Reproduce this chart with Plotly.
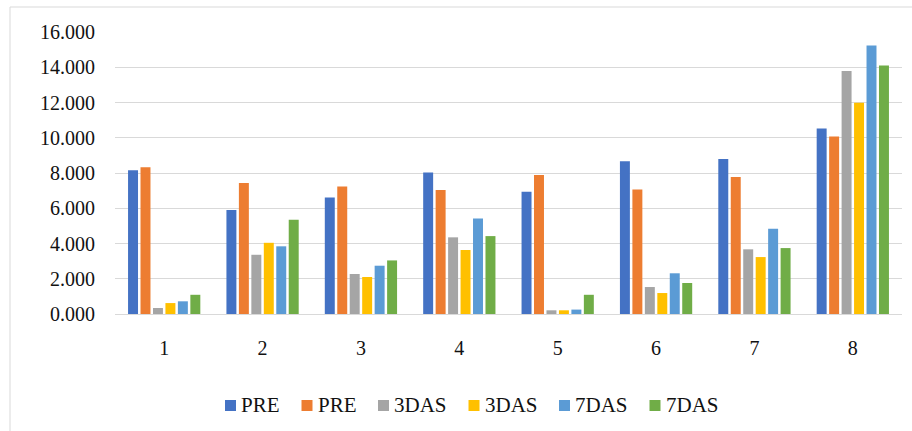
import plotly.graph_objects as go

categories = ["1", "2", "3", "4", "5", "6", "7", "8"]
series_names = ["PRE", "PRE", "3DAS", "3DAS", "7DAS", "7DAS"]
pre_a   = [8.16, 5.90, 6.61, 8.03, 6.93, 8.67, 8.79, 10.53]
pre_b   = [8.33, 7.43, 7.24, 7.03, 7.88, 7.07, 7.78, 10.07]
das3_a  = [0.34, 3.36, 2.27, 4.35, 0.21, 1.53, 3.67, 13.79]
das3_b  = [0.62, 4.04, 2.10, 3.63, 0.21, 1.19, 3.23, 11.98]
das7_a  = [0.72, 3.84, 2.74, 5.42, 0.25, 2.31, 4.84, 15.23]
das7_b  = [1.09, 5.35, 3.04, 4.42, 1.09, 1.76, 3.74, 14.10]
colors = ["#4472C4", "#ED7D31", "#A5A5A5", "#FFC000", "#5B9BD5", "#70AD47"]

series = [pre_a, pre_b, das3_a, das3_b, das7_a, das7_b]

fig = go.Figure()
for name, vals, col in zip(series_names, series, colors):
    fig.add_trace(go.Bar(x=categories, y=vals, name=name, marker_color=col,
                         marker_line_width=0, showlegend=False))

font = dict(family="Liberation Serif", size=20, color="#111111")
lfont = dict(family="Liberation Serif", size=21, color="#111111")
W, H = 912, 431
L, R, T, B = 115, 10, 32, 117
pw, ph = W - L - R, H - T - B


def px_x(p):
    return (p - L) / pw


def px_y(p):
    return (H - B - p) / ph


# legend drawn as a row of colour squares plus text labels (Excel style)
legend_text_x = [240, 316.5, 393, 483.5, 574, 664.5]
legend_y = 405
shapes = [dict(type="rect", xref="paper", yref="paper",
               x0=px_x(10), x1=px_x(W + 5), y0=px_y(H + 5), y1=px_y(7),
               line=dict(color="#D9D9D9", width=1), fillcolor="rgba(0,0,0,0)",
               layer="below")]
annotations = []
for name, col, tx in zip(series_names, colors, legend_text_x):
    shapes.append(dict(type="rect", xref="paper", yref="paper",
                       x0=px_x(tx - 15), x1=px_x(tx - 4),
                       y0=px_y(legend_y + 6), y1=px_y(legend_y - 5),
                       line=dict(width=0), fillcolor=col))
    annotations.append(dict(text=name, xref="paper", yref="paper",
                            x=px_x(tx - 1), y=px_y(legend_y), xanchor="left",
                            yanchor="middle", showarrow=False, font=lfont))

fig.update_layout(
    width=W, height=H,
    margin=dict(l=L, r=R, t=T, b=B),
    paper_bgcolor="white", plot_bgcolor="white",
    font=font,
    barmode="group", bargap=0.24, bargroupgap=0.2,
    showlegend=False,
    xaxis=dict(showgrid=False, showline=False, ticks="", ticklabelstandoff=20,
               tickfont=font, automargin=False),
    yaxis=dict(range=[0, 16], dtick=2, tickformat=".3f", showgrid=True,
               gridcolor="#D9D9D9", gridwidth=1, zeroline=True, zerolinecolor="#D9D9D9",
               zerolinewidth=1, showline=False, ticks="", ticklabelstandoff=19,
               tickfont=font, automargin=False),
    shapes=shapes,
    annotations=annotations,
)

fig.write_html("out.html", config={"displayModeBar": False},
               post_script="document.body.style.margin='0px';")
